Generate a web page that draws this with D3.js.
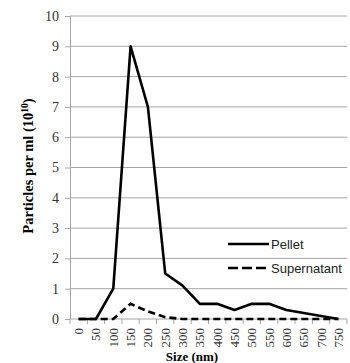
<!DOCTYPE html>
<html>
<head>
<meta charset="utf-8">
<script src="https://cdn.jsdelivr.net/npm/d3@7"></script>
<style>
  body { margin: 0; background: #fff; }
  svg { display: block; }
</style>
</head>
<body>
<svg class="chart" width="350" height="363"></svg>
<script>
// size bins (nm)
let sizes = ['0', '50', '100', '150', '200', '250', '300', '350', '400', '450', '500', '550', '600', '650', '700', '750'];
// particles per ml (10^10)
let pellet = [0, 0, 1, 9, 7, 1.5, 1.1, 0.5, 0.5, 0.3, 0.5, 0.5, 0.3, 0.2, 0.1, 0];
let supernatant = [0, 0, 0, 0.5, 0.25, 0.06, 0, 0, 0, 0, 0, 0, 0, 0, 0, 0];
let yTicks = [0, 1, 2, 3, 4, 5, 6, 7, 8, 9, 10];
let seriesNames = ['Pellet', 'Supernatant'];

let margin = { top: 16, right: 3, bottom: 44, left: 70 };
let width = 350 - margin.left - margin.right;
let height = 363 - margin.top - margin.bottom;

let svg = d3.select('.chart')
let chart = svg.append('g')
    .attr('transform', 'translate(' + margin.left + ',' + margin.top + ')')

let x = d3.scaleBand().domain(sizes).range([0, width])
let y = d3.scaleLinear().domain([0, 10]).range([height, 0])

let serif = '"Liberation Serif", "Times New Roman", serif'

// gridlines
chart.append('g')
    .selectAll('line')
    .data(yTicks)
    .enter()
    .append('line')
    .attr('x1', 0)
    .attr('x2', width)
    .attr('y1', d => y(d))
    .attr('y2', d => y(d))
    .attr('stroke', '#a6a6a6')
    .attr('stroke-width', 1)

// y axis
let yAxis = chart.append('g')
    .call(d3.axisLeft(y).tickValues(yTicks).tickSize(5).tickPadding(6).tickFormat(d3.format('d')))
yAxis.attr('font-family', null)
yAxis.select('.domain').attr('stroke', '#a6a6a6').attr('d', 'M0.5,' + height + 'V0')
yAxis.selectAll('.tick line').attr('stroke', '#a6a6a6')
yAxis.selectAll('.tick text')
    .attr('font-family', serif)
    .attr('font-size', 14)
    .attr('fill', '#333')

// x axis, ticks between categories
let xAxis = chart.append('g')
    .attr('transform', 'translate(0,' + height + ')')
xAxis.selectAll('line')
    .data(sizes.concat(['end']))
    .enter()
    .append('line')
    .attr('x1', (d, i) => i * x.step())
    .attr('x2', (d, i) => i * x.step())
    .attr('y1', 0)
    .attr('y2', 5)
    .attr('stroke', '#a6a6a6')
xAxis.selectAll('text')
    .data(sizes)
    .enter()
    .append('text')
    .attr('transform', d => 'translate(' + (x(d) + x.bandwidth() / 2 + 4.5) + ',9) rotate(-90)')
    .attr('text-anchor', 'end')
    .attr('font-family', serif)
    .attr('font-size', 13)
    .attr('fill', '#333')
    .text(d => d)

// lines
let line = d3.line()
    .x((d, i) => x(sizes[i]) + x.bandwidth() / 2)
    .y(d => y(d))

chart.append('path')
    .datum(supernatant)
    .attr('d', line)
    .attr('fill', 'none')
    .attr('stroke', '#000')
    .attr('stroke-width', 2.6)
    .attr('stroke-dasharray', '7,4')

chart.append('path')
    .datum(pellet)
    .attr('d', line)
    .attr('fill', 'none')
    .attr('stroke', '#000')
    .attr('stroke-width', 2.6)
    .attr('stroke-linejoin', 'round')

// legend
let legend = svg.append('g')
    .selectAll('g')
    .data(seriesNames)
    .enter()
    .append('g')
    .attr('transform', (d, i) => 'translate(228,' + (244 + i * 24) + ')')
legend.append('line')
    .attr('x1', 0)
    .attr('x2', 41)
    .attr('stroke', '#000')
    .attr('stroke-width', 2.6)
    .attr('stroke-dasharray', (d, i) => i ? '10,4' : null)
legend.append('text')
    .attr('x', 43)
    .attr('y', 4.5)
    .attr('font-family', '"Liberation Sans", Arial, sans-serif')
    .attr('font-size', 13)
    .attr('fill', '#222')
    .text(d => d)

// axis titles
svg.append('text')
    .attr('x', 192)
    .attr('y', 361)
    .attr('text-anchor', 'middle')
    .attr('font-family', serif)
    .attr('font-weight', 'bold')
    .attr('font-size', 13)
    .text('Size (nm)')

svg.append('text')
    .attr('transform', 'translate(33,166) rotate(-90)')
    .attr('text-anchor', 'middle')
    .attr('font-family', serif)
    .attr('font-weight', 'bold')
    .attr('font-size', 14.5)
    .html('Particles per ml (10<tspan dy="-5" font-size="9.5">10</tspan><tspan dy="5">)</tspan>')
</script>
</body>
</html>
